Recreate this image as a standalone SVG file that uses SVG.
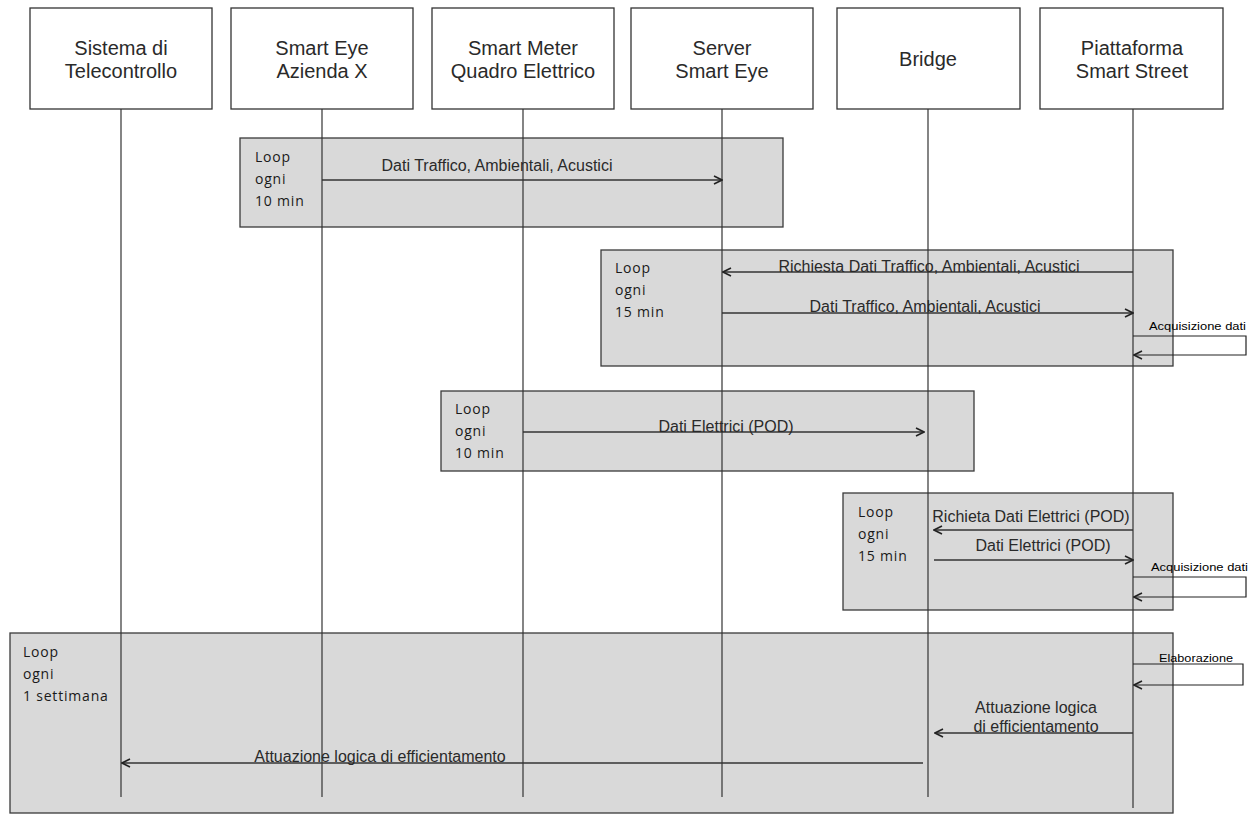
<svg xmlns="http://www.w3.org/2000/svg" width="1257" height="814" viewBox="0 0 1257 814">
  <style>
    .actor { fill: #ffffff; stroke: #333333; stroke-width: 1.3; }
    .actor-label { font-family: "Liberation Sans", Arial, sans-serif; font-size: 20px; fill: #2a2a2a; text-anchor: middle; }
    .lifeline { stroke: #333333; stroke-width: 1.2; fill: none; }
    .loop { fill: #d9d9d9; stroke: #3a3a3a; stroke-width: 1.3; }
    .loop-label { font-family: "Open Sans", "Noto Sans", sans-serif; font-size: 14px; letter-spacing: 0.8px; fill: #1a1a1a; }
    .msg { stroke: #333333; stroke-width: 1.3; fill: none; marker-end: url(#arrow); }
    .self { stroke: #222222; stroke-width: 1.2; fill: none; }
    .msg-label { font-family: "Liberation Sans", Arial, sans-serif; font-size: 16px; fill: #2a2a2a; text-anchor: middle; }
    .note { font-family: "Liberation Sans", Arial, sans-serif; font-size: 11.5px; fill: #000000; }
  </style>
  <defs>
    <marker id="arrow" viewBox="0 0 10 10" refX="9" refY="5" markerWidth="10" markerHeight="10" markerUnits="userSpaceOnUse" orient="auto">
      <path d="M1,1 L9,5 L1,9" fill="none" stroke="#222222" stroke-width="1.6"/>
    </marker>
  </defs>

  <rect width="1257" height="814" fill="#ffffff"/>

  <!-- loop frames -->
  <g id="loops">
    <g id="loop-1">
      <rect class="loop" x="240" y="138" width="543" height="89"/>
      <text class="loop-label" x="255" y="162">Loop</text>
      <text class="loop-label" x="255" y="184">ogni</text>
      <text class="loop-label" x="255" y="206">10 min</text>
    </g>
    <g id="loop-2">
      <rect class="loop" x="601" y="250" width="572" height="116"/>
      <text class="loop-label" x="615" y="273">Loop</text>
      <text class="loop-label" x="615" y="295">ogni</text>
      <text class="loop-label" x="615" y="317">15 min</text>
    </g>
    <g id="loop-3">
      <rect class="loop" x="441" y="391" width="533" height="80"/>
      <text class="loop-label" x="455" y="414">Loop</text>
      <text class="loop-label" x="455" y="436">ogni</text>
      <text class="loop-label" x="455" y="458">10 min</text>
    </g>
    <g id="loop-4">
      <rect class="loop" x="843" y="493" width="330" height="117"/>
      <text class="loop-label" x="858" y="517">Loop</text>
      <text class="loop-label" x="858" y="539">ogni</text>
      <text class="loop-label" x="858" y="561">15 min</text>
    </g>
    <g id="loop-5">
      <rect class="loop" x="10" y="633" width="1163" height="180"/>
      <text class="loop-label" x="23" y="657">Loop</text>
      <text class="loop-label" x="23" y="679">ogni</text>
      <text class="loop-label" x="23" y="701">1 settimana</text>
    </g>
  </g>

  <!-- participants -->
  <g id="sistema-telecontrollo">
    <rect class="actor" x="30" y="8" width="182" height="101"/>
    <text class="actor-label" x="121" y="55">Sistema di</text>
    <text class="actor-label" x="121" y="78">Telecontrollo</text>
    <line class="lifeline" x1="121" y1="109" x2="121" y2="797"/>
  </g>
  <g id="smart-eye">
    <rect class="actor" x="231" y="8" width="182" height="101"/>
    <text class="actor-label" x="322" y="55">Smart Eye</text>
    <text class="actor-label" x="322" y="78">Azienda X</text>
    <line class="lifeline" x1="322" y1="109" x2="322" y2="797"/>
  </g>
  <g id="smart-meter">
    <rect class="actor" x="432" y="8" width="182" height="101"/>
    <text class="actor-label" x="523" y="55">Smart Meter</text>
    <text class="actor-label" x="523" y="78">Quadro Elettrico</text>
    <line class="lifeline" x1="523" y1="109" x2="523" y2="797"/>
  </g>
  <g id="server-smart-eye">
    <rect class="actor" x="631" y="8" width="182" height="101"/>
    <text class="actor-label" x="722" y="55">Server</text>
    <text class="actor-label" x="722" y="78">Smart Eye</text>
    <line class="lifeline" x1="722" y1="109" x2="722" y2="797"/>
  </g>
  <g id="bridge">
    <rect class="actor" x="837" y="8" width="183" height="101"/>
    <text class="actor-label" x="928" y="66">Bridge</text>
    <line class="lifeline" x1="928" y1="109" x2="928" y2="797"/>
  </g>
  <g id="piattaforma-smart-street">
    <rect class="actor" x="1040" y="8" width="183" height="101"/>
    <text class="actor-label" x="1132" y="55">Piattaforma</text>
    <text class="actor-label" x="1132" y="78">Smart Street</text>
    <line class="lifeline" x1="1133" y1="109" x2="1133" y2="808"/>
  </g>

  <!-- messages -->
  <g id="connectors">
    <line class="msg" x1="322" y1="180" x2="722" y2="180"/>
    <text class="msg-label" x="497" y="171">Dati Traffico, Ambientali, Acustici</text>

    <line class="msg" x1="1133" y1="272" x2="723" y2="272"/>
    <text class="msg-label" x="929" y="272">Richiesta Dati Traffico, Ambientali, Acustici</text>
    <line class="msg" x1="722" y1="313" x2="1133" y2="313"/>
    <text class="msg-label" x="925" y="312">Dati Traffico, Ambientali, Acustici</text>
    <polyline class="self" points="1133,336 1246,336 1246,355 1134,355" marker-end="url(#arrow)"/>
    <text class="note" x="1149" y="330" textLength="97" lengthAdjust="spacingAndGlyphs">Acquisizione dati</text>

    <line class="msg" x1="523" y1="432" x2="924" y2="432"/>
    <text class="msg-label" x="726" y="432">Dati Elettrici (POD)</text>

    <line class="msg" x1="1133" y1="530" x2="934" y2="530"/>
    <text class="msg-label" x="1031" y="522">Richieta Dati Elettrici (POD)</text>
    <line class="msg" x1="934" y1="560" x2="1133" y2="560"/>
    <text class="msg-label" x="1043" y="551">Dati Elettrici (POD)</text>
    <polyline class="self" points="1133,577 1246,577 1246,597 1134,597" marker-end="url(#arrow)"/>
    <text class="note" x="1151" y="571" textLength="97" lengthAdjust="spacingAndGlyphs">Acquisizione dati</text>

    <polyline class="self" points="1133,664 1243,664 1243,685 1134,685" marker-end="url(#arrow)"/>
    <text class="note" x="1159" y="662" textLength="74" lengthAdjust="spacingAndGlyphs">Elaborazione</text>

    <line class="msg" x1="1133" y1="733" x2="935" y2="733"/>
    <text class="msg-label" x="1036" y="713">Attuazione logica</text>
    <text class="msg-label" x="1036" y="732">di efficientamento</text>

    <line class="msg" x1="923" y1="763" x2="122" y2="763"/>
    <text class="msg-label" x="380" y="762">Attuazione logica di efficientamento</text>
  </g>
</svg>
